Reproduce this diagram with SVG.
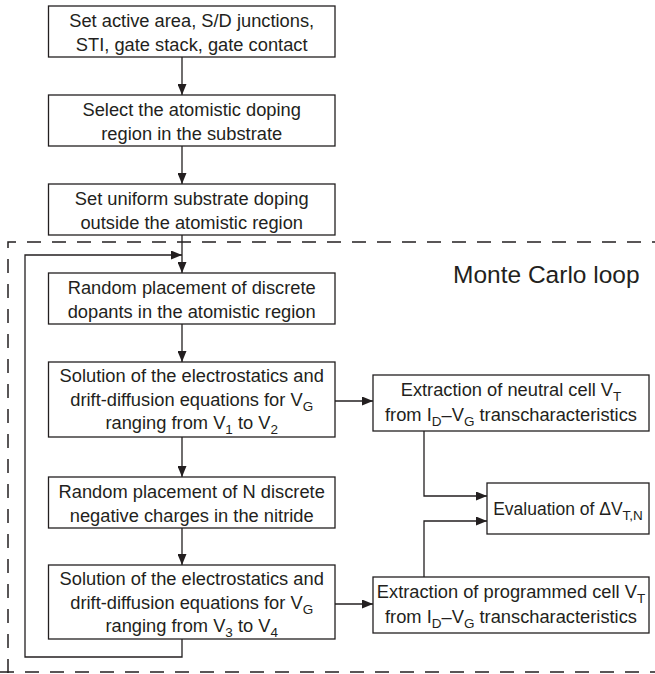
<svg xmlns="http://www.w3.org/2000/svg" width="655" height="674" viewBox="0 0 655 674">
<defs>
<marker id="ah" markerUnits="userSpaceOnUse" markerWidth="11" markerHeight="9" refX="11" refY="4.5" orient="auto">
<path d="M0,0 L11,4.5 L0,9 z" fill="#231f20"/>
</marker>
<style>
.box{fill:#fff;stroke:#231f20;stroke-width:1.3}
.t{font-family:"Liberation Sans",Arial,Helvetica,sans-serif;font-size:18.3px;fill:#231f20;text-anchor:middle}
.sub{font-size:13.5px}
.ln{fill:none;stroke:#231f20;stroke-width:1.3}
.dash{fill:none;stroke:#231f20;stroke-width:1.5;stroke-dasharray:14 11}
</style>
</defs>
<rect width="655" height="674" fill="#fff"/>
<g id="loop-frame">
<path class="dash" d="M8,673 L8,242 L655,242"/>
<path class="dash" d="M0,672 L655,672"/>
<text x="453" y="283" font-family="Liberation Sans,Arial,sans-serif" font-size="24.5" fill="#231f20">Monte Carlo loop</text>
</g>
<g id="connectors">
<path class="ln" marker-end="url(#ah)" d="M182,57 L182,95"/>
<path class="ln" marker-end="url(#ah)" d="M182,146 L182,184"/>
<path class="ln" marker-end="url(#ah)" d="M182,235 L182,273"/>
<path class="ln" marker-end="url(#ah)" d="M182,639 L182,657 L25,657 L25,255 L182,255"/>
<path class="ln" marker-end="url(#ah)" d="M182,324 L182,362"/>
<path class="ln" marker-end="url(#ah)" d="M182,437 L182,477"/>
<path class="ln" marker-end="url(#ah)" d="M182,528 L182,565"/>
<path class="ln" marker-end="url(#ah)" d="M335,401 L373,401"/>
<path class="ln" marker-end="url(#ah)" d="M335,604 L373,604"/>
<path class="ln" marker-end="url(#ah)" d="M424,431 L424,496 L487,496"/>
<path class="ln" marker-end="url(#ah)" d="M424,577 L424,521 L487,521"/>
</g>
<g id="n1">
<rect class="box" x="48.5" y="6" width="286.5" height="51"/>
<text class="t" x="191.7" y="27">Set active area, S/D junctions,</text>
<text class="t" x="191.7" y="51">STI, gate stack, gate contact</text>
</g>
<g id="n2">
<rect class="box" x="48.5" y="95" width="286.5" height="51"/>
<text class="t" x="191.7" y="116">Select the atomistic doping</text>
<text class="t" x="191.7" y="140">region in the substrate</text>
</g>
<g id="n3">
<rect class="box" x="48.5" y="184" width="286.5" height="51"/>
<text class="t" x="191.7" y="205">Set uniform substrate doping</text>
<text class="t" x="191.7" y="229">outside the atomistic region</text>
</g>
<g id="n4">
<rect class="box" x="48.5" y="273" width="286.5" height="51"/>
<text class="t" x="191.7" y="294">Random placement of discrete</text>
<text class="t" x="191.7" y="318">dopants in the atomistic region</text>
</g>
<g id="n5">
<rect class="box" x="48.5" y="362" width="286.5" height="75"/>
<text class="t" x="191.7" y="382">Solution of the electrostatics and</text>
<text class="t" x="191.7" y="406">drift-diffusion equations for V<tspan class="sub" dy="5">G</tspan></text>
<text class="t" x="191.7" y="429">ranging from V<tspan class="sub" dy="5">1</tspan><tspan dy="-5"> to V</tspan><tspan class="sub" dy="5">2</tspan></text>
</g>
<g id="n6">
<rect class="box" x="48.5" y="477" width="286.5" height="51"/>
<text class="t" x="191.7" y="498">Random placement of N discrete</text>
<text class="t" x="191.7" y="522">negative charges in the nitride</text>
</g>
<g id="n7">
<rect class="box" x="48.5" y="565" width="286.5" height="74"/>
<text class="t" x="191.7" y="585">Solution of the electrostatics and</text>
<text class="t" x="191.7" y="609">drift-diffusion equations for V<tspan class="sub" dy="5">G</tspan></text>
<text class="t" x="191.7" y="632">ranging from V<tspan class="sub" dy="5">3</tspan><tspan dy="-5"> to V</tspan><tspan class="sub" dy="5">4</tspan></text>
</g>
<g id="n8">
<rect class="box" x="373" y="375" width="276" height="56"/>
<text class="t" x="511" y="396">Extraction of neutral cell V<tspan class="sub" dy="5">T</tspan></text>
<text class="t" x="511" y="421">from I<tspan class="sub" dy="5">D</tspan><tspan dy="-5">–V</tspan><tspan class="sub" dy="5">G</tspan><tspan dy="-5"> transcharacteristics</tspan></text>
</g>
<g id="n9">
<rect class="box" x="487" y="483" width="162" height="51"/>
<text class="t" x="568" y="515" style="font-size:17.5px">Evaluation of ΔV<tspan class="sub" dy="5">T,N</tspan></text>
</g>
<g id="n10">
<rect class="box" x="373" y="577" width="276" height="56"/>
<text class="t" x="511" y="598">Extraction of programmed cell V<tspan class="sub" dy="5">T</tspan></text>
<text class="t" x="511" y="623">from I<tspan class="sub" dy="5">D</tspan><tspan dy="-5">–V</tspan><tspan class="sub" dy="5">G</tspan><tspan dy="-5"> transcharacteristics</tspan></text>
</g>
</svg>
